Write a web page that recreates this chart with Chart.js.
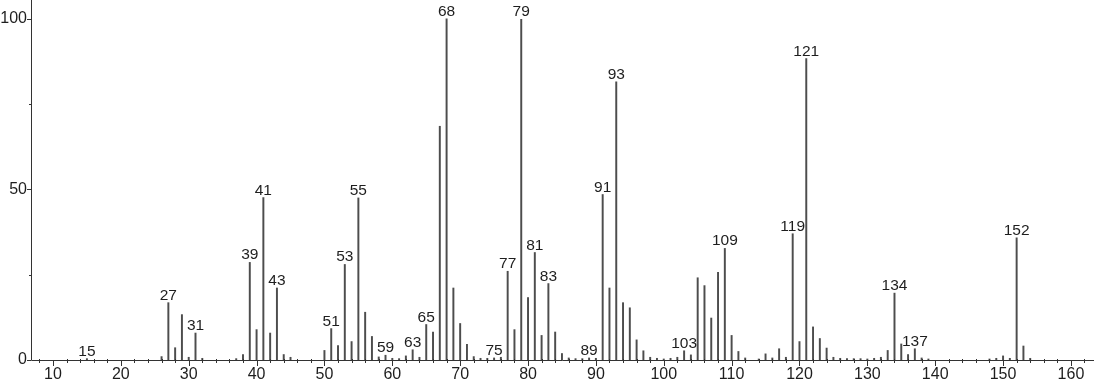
<!DOCTYPE html>
<html>
<head>
<meta charset="utf-8">
<script src="https://cdn.jsdelivr.net/npm/chart.js@4"></script>
<style>
  html, body { margin: 0; padding: 0; background: #fff; }
  #wrap { width: 1094px; height: 384px; position: relative; }
</style>
</head>
<body>
<div id="wrap"><canvas id="c"></canvas></div>
<script>
// m/z values
const mz = [15, 26, 27, 28, 29, 30, 31, 32, 37, 38, 39, 40, 41, 42, 43, 44, 45,
  50, 51, 52, 53, 54, 55, 56, 57, 58, 59, 60, 61, 62, 63, 64, 65, 66, 67, 68, 69, 70,
  71, 72, 73, 74, 75, 76, 77, 78, 79, 80, 81, 82, 83, 84, 85, 86, 87, 88, 89, 90,
  91, 92, 93, 94, 95, 96, 97, 98, 99, 100, 101, 102, 103, 104, 105, 106, 107, 108,
  109, 110, 111, 112, 114, 115, 116, 117, 118, 119, 120, 121, 122, 123, 124, 125,
  126, 127, 128, 129, 130, 131, 132, 133, 134, 135, 136, 137, 138, 139, 148, 149,
  150, 151, 152, 153, 154];
// relative intensities
const intensity = [0.4, 1.0, 16.8, 3.6, 13.3, 0.8, 7.9, 0.5, 0.4, 1.6, 28.6, 8.9, 47.6, 7.9, 21.1, 1.6, 0.8,
  2.8, 9.2, 4.2, 28.0, 5.4, 47.5, 14.0, 6.9, 0.9, 1.4, 0.5, 0.4, 1.2, 3.0, 0.8, 10.4, 8.2, 68.5, 100, 21.1, 10.7,
  4.6, 1.0, 0.5, 0.5, 0.6, 0.8, 26.0, 8.9, 99.8, 18.3, 31.5, 7.2, 22.4, 8.2, 1.9, 0.6, 0.4, 0.4, 0.6, 0.5,
  48.5, 21.1, 81.5, 16.8, 15.3, 5.9, 2.7, 0.8, 0.5, 0.3, 0.5, 0.8, 2.7, 1.5, 24.1, 21.8, 12.3, 25.7,
  32.7, 7.2, 2.5, 0.6, 0.3, 1.8, 0.6, 3.3, 0.8, 37.0, 5.4, 88.3, 9.7, 6.3, 3.5, 0.8,
  0.5, 0.4, 0.4, 0.4, 0.3, 0.5, 0.8, 2.8, 19.6, 4.7, 1.6, 3.3, 0.6, 0.3, 0.3, 0.5,
  1.2, 0.5, 35.8, 4.1, 0.5];
// peaks that carry an m/z label
const labeledPeaks = [15, 27, 31, 39, 41, 43, 51, 53, 55, 59, 63, 65, 68, 75, 77, 79, 81, 83,
  89, 91, 93, 103, 109, 119, 121, 134, 137, 152];
// axis tick values
const xMajorTicks = [10, 20, 30, 40, 50, 60, 70, 80, 90, 100, 110, 120, 130, 140, 150, 160];
const xMinorStep = 2;
const yMajorTicks = [0, 50, 100];
const yMinorTicks = [25, 75];

const FONT = '"Liberation Sans", Arial, sans-serif';
const INK = '#1e1e1e';

const axesPlugin = {
  id: 'axesPlugin',
  afterDraw(chart) {
    const {ctx, chartArea: a, scales: {x, y}} = chart;
    ctx.save();
    ctx.strokeStyle = '#333';
    ctx.lineWidth = 1;
    ctx.beginPath();
    ctx.moveTo(a.left + 0.5, a.top);
    ctx.lineTo(a.left + 0.5, a.bottom + 0.5);
    ctx.lineTo(a.right, a.bottom + 0.5);
    ctx.stroke();
    ctx.beginPath();
    for (let v = 8; v <= x.max; v += xMinorStep) {
      const px = Math.round(x.getPixelForValue(v)) + 0.5;
      if (xMajorTicks.includes(v)) {
        ctx.moveTo(px, a.bottom); ctx.lineTo(px, a.bottom + 6);
      } else {
        ctx.moveTo(px, a.bottom - 1); ctx.lineTo(px, a.bottom + 3);
      }
    }
    yMajorTicks.forEach(v => {
      const py = Math.round(y.getPixelForValue(v)) + 0.5;
      ctx.moveTo(a.left - 4, py); ctx.lineTo(a.left, py);
    });
    yMinorTicks.forEach(v => {
      const py = Math.round(y.getPixelForValue(v)) + 0.5;
      ctx.moveTo(a.left - 2, py); ctx.lineTo(a.left + 1, py);
    });
    ctx.stroke();
    ctx.restore();
  }
};

const peakLabelPlugin = {
  id: 'peakLabels',
  afterDatasetsDraw(chart) {
    const {ctx} = chart;
    const meta = chart.getDatasetMeta(0);
    ctx.save();
    ctx.fillStyle = INK;
    ctx.font = '15.5px ' + FONT;
    ctx.textAlign = 'center';
    ctx.textBaseline = 'alphabetic';
    labeledPeaks.forEach(m => {
      const i = mz.indexOf(m);
      if (i < 0) return;
      const el = meta.data[i];
      ctx.fillText(String(m), el.x, el.y - 3);
    });
    ctx.restore();
  }
};

function noPad(s) {
  s.paddingLeft = 0; s.paddingRight = 0; s.paddingTop = 0; s.paddingBottom = 0;
}

new Chart(document.getElementById('c'), {
  type: 'bar',
  data: {
    datasets: [{
      data: mz.map((m, i) => ({x: m, y: intensity[i]})),
      backgroundColor: '#4d4d4d',
      borderWidth: 0,
      barThickness: 1.3
    }]
  },
  options: {
    responsive: true,
    maintainAspectRatio: false,
    animation: false,
    layout: {padding: {left: 0, right: 0, top: 0, bottom: 0}},
    plugins: {legend: {display: false}, tooltip: {enabled: false}},
    scales: {
      x: {
        type: 'linear',
        min: 6.76,
        max: 163.4,
        offset: false,
        grid: {display: false, drawTicks: false},
        border: {display: false},
        afterFit(s) { s.height = 24; noPad(s); },
        ticks: {
          stepSize: 10,
          includeBounds: false,
          autoSkip: false,
          maxRotation: 0,
          padding: 5,
          color: INK,
          font: {family: FONT, size: 16},
          callback: v => (xMajorTicks.includes(v) ? String(v) : '')
        }
      },
      y: {
        min: 0,
        max: 105.5,
        grid: {display: false, drawTicks: false},
        border: {display: false},
        afterFit(s) { s.width = 31; noPad(s); },
        ticks: {
          stepSize: 50,
          includeBounds: false,
          padding: 4,
          color: INK,
          font: {family: FONT, size: 16},
          callback: v => (yMajorTicks.includes(v) ? String(v) : '')
        }
      }
    }
  },
  plugins: [axesPlugin, peakLabelPlugin]
});
</script>
</body>
</html>
